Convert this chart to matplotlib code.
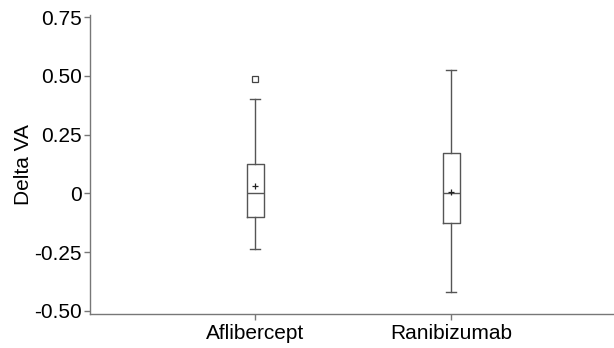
import matplotlib
matplotlib.use("Agg")
import matplotlib.pyplot as plt

plt.rcParams['font.family'] = ['Liberation Sans', 'DejaVu Sans']

categories = ["Aflibercept", "Ranibizumab"]
q1 = [-0.102, -0.125]
median = [0.0, 0.0]
q3 = [0.125, 0.174]
mean = [0.031, 0.006]
whis_lo = [-0.236, -0.42]
whis_hi = [0.40, 0.525]
outliers = [[0.486], []]

yticks = [0.75, 0.50, 0.25, 0.0, -0.25, -0.50]
ytick_labels = ["0.75", "0.50", "0.25", "0", "-0.25", "-0.50"]

fig = plt.figure(figsize=(6.14, 3.48), dpi=100)
ax = fig.add_axes([90/614, 34/348, 524/614, 299/348])

stats = []
for i, c in enumerate(categories):
    stats.append(dict(label=c, q1=q1[i], med=median[i], q3=q3[i], mean=mean[i],
                      whislo=whis_lo[i], whishi=whis_hi[i], fliers=outliers[i]))

lc = "#555555"
ax.bxp(stats, positions=[1, 2], widths=0.087, showmeans=True, showfliers=True,
       boxprops=dict(color=lc, linewidth=1.0),
       medianprops=dict(color=lc, linewidth=1.0),
       whiskerprops=dict(color=lc, linewidth=1.0),
       capprops=dict(color=lc, linewidth=1.0),
       capwidths=0.05,
       meanprops=dict(marker='+', markeredgecolor='#222222', markersize=4, markeredgewidth=0.9),
       flierprops=dict(marker='s', markerfacecolor='none', markeredgecolor='#444444',
                       markersize=4, markeredgewidth=0.9))

ax.set_xlim(0.158, 2.831)
ax.set_ylim(-0.513, 0.759)
ax.set_yticks(yticks)
ax.set_yticklabels(ytick_labels)
ax.set_xticks([1, 2])
ax.set_xticklabels(categories)

for s in ["top", "right"]:
    ax.spines[s].set_visible(False)
for s in ["left", "bottom"]:
    ax.spines[s].set_color("#777777")
    ax.spines[s].set_linewidth(1.0)
ax.tick_params(axis='both', colors="#777777", labelcolor="black", labelsize=15,
               length=4, width=1.0)
ax.tick_params(axis='y', pad=2)
ax.tick_params(axis='x', pad=3)
ax.set_ylabel("Delta VA", fontsize=15, labelpad=1)

fig.savefig("out.png", dpi=100)
